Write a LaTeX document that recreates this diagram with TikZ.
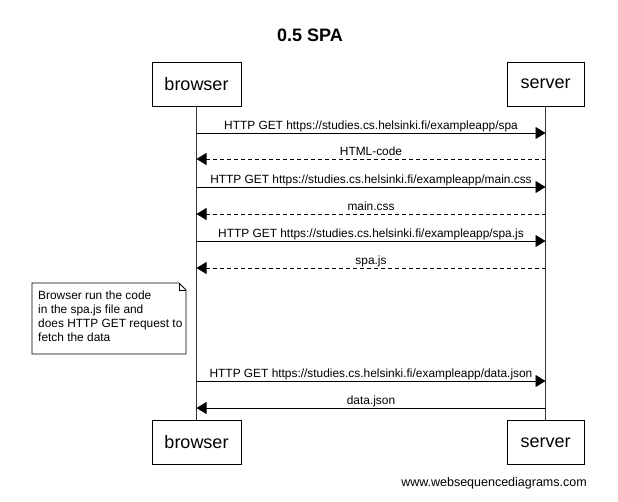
\documentclass[tikz,border=0pt]{standalone}
\usepackage{fontspec}
\setmainfont{Liberation Sans}
\usetikzlibrary{arrows.meta}
\begin{document}
\begin{tikzpicture}[x=1pt,y=-1pt,
  actor/.style={draw,line width=0.8pt,minimum width=89pt,minimum height=44pt,inner sep=0pt,font=\fontsize{18}{20}\selectfont},
  life/.style={line width=0.8pt,draw=black!80},
  msg/.style={line width=0.8pt,-{Triangle[length=10pt,width=12pt]}},
  reply/.style={msg,dash pattern=on 4pt off 3pt},
  lbl/.style={anchor=base,inner sep=0pt,font=\fontsize{11.9}{13}\selectfont}]
\useasboundingbox (0,0) rectangle (618,501);
\node[font=\bfseries\fontsize{18}{20}\selectfont] (title) at (310,35) {0.5 SPA};
\node[actor] (bt) at (196.5,84) {browser};
\node[actor,minimum width=77pt] (st) at (545.5,84) {server};
\node[actor] (bb) at (196.5,442.5) {browser};
\node[actor,minimum width=77pt] (sb) at (545.5,442.5) {server};
\draw[life] (bt.south) -- (bb.north);
\draw[life] (st.south) -- (sb.north);
% messages
\foreach \y/\kind/\txt in {133/msg/{HTTP GET https://studies.cs.helsinki.fi/exampleapp/spa},
                          187/msg/{HTTP GET https://studies.cs.helsinki.fi/exampleapp/main.css},
                          241/msg/{HTTP GET https://studies.cs.helsinki.fi/exampleapp/spa.js},
                          381/msg/{HTTP GET https://studies.cs.helsinki.fi/exampleapp/data.json}}{
  \coordinate (a) at (196.5,\y);
  \coordinate (b) at (545.5,\y);
  \draw[\kind] (a) -- (b);
  \node[lbl] at (371,\y-3.5) {\txt};
}
\foreach \y/\kind/\txt in {159/reply/{HTML-code},
                          214/reply/{main.css},
                          268/reply/{spa.js},
                          408/msg/{data.json}}{
  \coordinate (a) at (545.5,\y);
  \coordinate (b) at (196.5,\y);
  \draw[\kind] (a) -- (b);
  \node[lbl] at (371,\y-3.5) {\txt};
}
% note
\draw[line width=0.8pt,fill=white] (32,283) -- (179,283) -- (186,290) -- (186,354) -- (32,354) -- cycle;
\draw[line width=0.6pt] (179,283) -- (179,290) -- (186,290);
\node[anchor=north west,inner sep=0pt,align=left,font=\fontsize{11.9}{13.8}\selectfont] (note) at (38,291)
  {Browser run the code\\in the spa.js file and\\does HTTP GET request to\\fetch the data};
\node[font=\fontsize{12.5}{14}\selectfont] (wm) at (494,483) {www.websequencediagrams.com};
\end{tikzpicture}
\end{document}
